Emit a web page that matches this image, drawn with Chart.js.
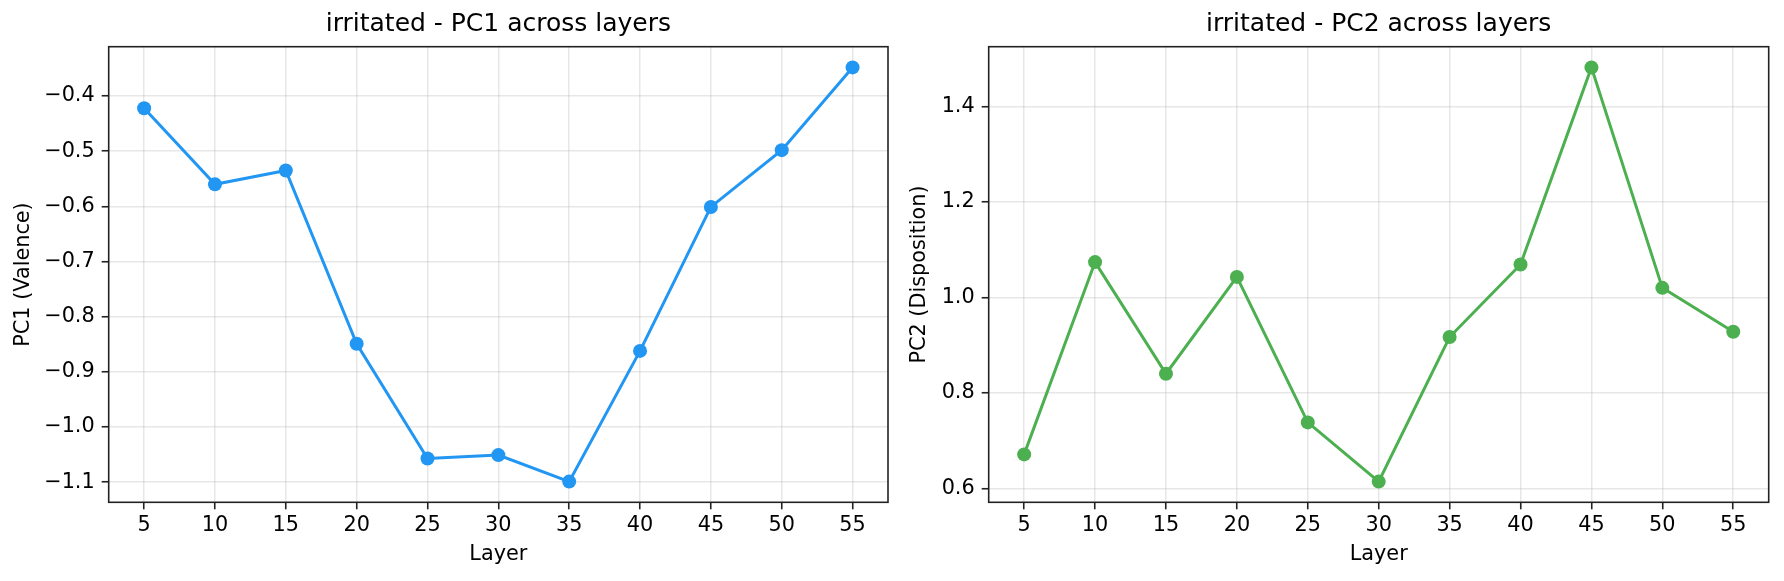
<!DOCTYPE html>
<html>
<head>
<meta charset="utf-8">
<script src="https://cdn.jsdelivr.net/npm/chart.js@4.4.1/dist/chart.umd.min.js"></script>
<style>
  html, body { margin: 0; padding: 0; background: #fff; }
  #wrap { position: relative; width: 1784px; height: 581px; }
  .panel { position: absolute; top: 0; height: 581px; }
  #leftPanel { left: 0; width: 895px; }
  #rightPanel { left: 895px; width: 889px; }
</style>
</head>
<body>
<div id="wrap">
  <div class="panel" id="leftPanel"><canvas id="pc1Chart"></canvas></div>
  <div class="panel" id="rightPanel"><canvas id="pc2Chart"></canvas></div>
</div>
<script>
const layers = [5, 10, 15, 20, 25, 30, 35, 40, 45, 50, 55];
const pc1Values = [-0.422, -0.560, -0.535, -0.849, -1.057, -1.051, -1.099, -0.862, -0.601, -0.498, -0.348];
const pc2Values = [0.671, 1.074, 0.840, 1.043, 0.738, 0.614, 0.917, 1.069, 1.482, 1.020, 0.928];
const pc1Ticks = [-1.1, -1.0, -0.9, -0.8, -0.7, -0.6, -0.5, -0.4];
const pc2Ticks = [0.6, 0.8, 1.0, 1.2, 1.4];

const FONT = "'DejaVu Sans', sans-serif";

// box around the plot area, like matplotlib spines
const framePlugin = {
  id: 'frame',
  afterDraw(chart) {
    const { ctx, chartArea: a } = chart;
    ctx.save();
    ctx.strokeStyle = '#222';
    ctx.lineWidth = 1.6;
    ctx.strokeRect(a.left, a.top, a.right - a.left, a.bottom - a.top);
    ctx.restore();
  },
};

function padRange(values) {
  const lo = Math.min(...values);
  const hi = Math.max(...values);
  const m = (hi - lo) * 0.05;
  return [lo - m, hi + m];
}

function fmt(v) {
  return v.toFixed(1).replace('-', '\u2212');
}

function makeChart(canvasId, opts) {
  const [ymin, ymax] = padRange(opts.values);
  return new Chart(document.getElementById(canvasId), {
    type: 'line',
    data: {
      datasets: [
        {
          data: layers.map((l, i) => ({ x: l, y: opts.values[i] })),
          borderColor: opts.color,
          backgroundColor: opts.color,
          pointBackgroundColor: opts.color,
          pointBorderColor: opts.color,
          pointBorderWidth: 0,
          pointRadius: 7,
          pointHoverRadius: 7,
          borderWidth: 3,
          tension: 0,
        },
      ],
    },
    options: {
      responsive: true,
      maintainAspectRatio: false,
      animation: false,
      events: [],
      layout: { padding: { left: 0, right: opts.padRight, top: 0, bottom: 0 } },
      plugins: {
        legend: { display: false },
        tooltip: { enabled: false },
        title: {
          display: true,
          text: opts.title,
          fullSize: false,
          color: '#000',
          font: { family: FONT, size: 25, weight: 'normal' },
          padding: { top: 9.6, bottom: 7.1 },
        },
      },
      scales: {
        x: {
          type: 'linear',
          min: 2.5,
          max: 57.5,
          afterBuildTicks: (s) => { s.ticks = layers.map((v) => ({ value: v })); },
          afterFit: (s) => { s.height = 78.7; },
          border: { display: false },
          grid: { color: 'rgba(176,176,176,0.3)', lineWidth: 1.5, tickColor: '#222', tickWidth: 1.6, tickLength: 7 },
          ticks: { color: '#000', font: { family: FONT, size: 20.8 }, padding: 4.3, maxRotation: 0, autoSkip: false },
          title: { display: true, text: 'Layer', color: '#000', font: { family: FONT, size: 20.8 }, padding: { top: 0, bottom: 14.2 } },
        },
        y: {
          min: ymin,
          max: ymax,
          afterBuildTicks: (s) => { s.ticks = opts.ticks.map((v) => ({ value: v })); },
          afterFit: (s) => { s.width = opts.yWidth; },
          border: { display: false },
          grid: { color: 'rgba(176,176,176,0.3)', lineWidth: 1.5, tickColor: '#222', tickWidth: 1.6, tickLength: 7 },
          ticks: { color: '#000', font: { family: FONT, size: 20.8 }, padding: 7, callback: (v) => fmt(v) },
          title: { display: true, text: opts.yLabel, color: '#000', font: { family: FONT, size: 20.8 }, padding: { top: opts.yTitlePad, bottom: 0 } },
        },
      },
    },
    plugins: [framePlugin],
  });
}

makeChart('pc1Chart', {
  values: pc1Values,
  ticks: pc1Ticks,
  color: '#2196F3',
  title: 'irritated - PC1 across layers',
  yLabel: 'PC1 (Valence)',
  yWidth: 108.7,
  yTitlePad: 10.8,
  padRight: 6.3,
});

makeChart('pc2Chart', {
  values: pc2Values,
  ticks: pc2Ticks,
  color: '#4CAF50',
  title: 'irritated - PC2 across layers',
  yLabel: 'PC2 (Disposition)',
  yWidth: 93.7,
  yTitlePad: 12.5,
  padRight: 15.3,
});
</script>
</body>
</html>
